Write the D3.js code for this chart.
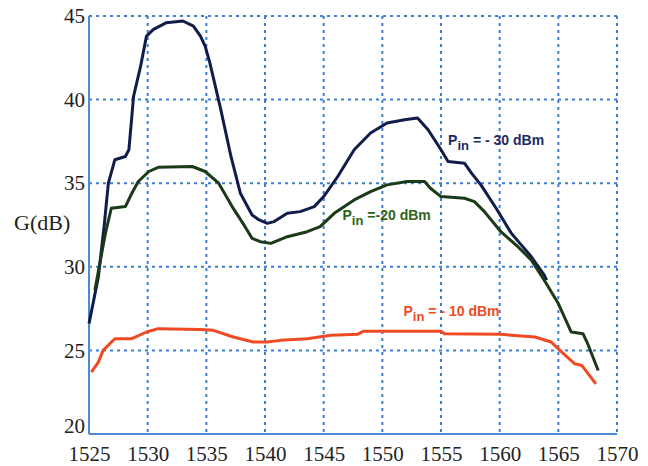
<!DOCTYPE html>
<html><head><meta charset="utf-8">
<script src="https://cdn.jsdelivr.net/npm/d3@7"></script>
<style>body{margin:0;background:#fff}svg{display:block}</style>
</head><body><div id="chart"></div>
<script>
// wavelength (nm) / gain (dB)
const xTicks=[1525,1530,1535,1540,1545,1550,1555,1560,1565,1570];
const yTicks=[20,25,30,35,40,45];
const lam30=[1525.0,1525.8,1526.3,1526.65,1527.2,1528.1,1528.4,1528.8,1529.4,1529.9,1530.5,1531.6,1533.0,1533.9,1534.5,1534.9,1535.3,1536.2,1537.1,1537.9,1538.9,1539.5,1540.2,1540.75,1541.9,1543.0,1544.2,1545.0,1546.2,1547.6,1549.0,1550.4,1551.9,1553.0,1553.9,1555.0,1555.6,1557.0,1557.6,1558.4,1559.7,1561.0,1562.7,1563.8,1564.0];
const g30=[26.6,29.4,32.5,35.0,36.4,36.6,37.0,40.2,42.0,43.8,44.2,44.6,44.7,44.4,43.8,43.2,42.2,39.5,36.6,34.4,33.1,32.8,32.6,32.7,33.2,33.3,33.6,34.2,35.4,37.0,38.0,38.6,38.8,38.9,38.2,37.0,36.3,36.2,35.6,34.9,33.5,32.0,30.6,29.5,29.2];
const lam20=[1525.5,1526.0,1526.4,1526.9,1528.1,1528.65,1529.2,1530.1,1530.9,1533.8,1534.9,1536.05,1537.2,1538.3,1538.9,1539.6,1540.5,1541.9,1543.6,1544.7,1545.9,1547.6,1549.0,1550.4,1552.1,1553.6,1554.1,1555.0,1557.0,1557.85,1558.7,1560.1,1561.55,1562.7,1563.8,1565.0,1566.1,1567.1,1567.5,1568.4];
const g20=[28.6,30.5,32.0,33.5,33.6,34.4,35.1,35.7,35.95,36.0,35.7,35.0,33.6,32.4,31.7,31.5,31.4,31.8,32.1,32.4,33.2,34.0,34.5,34.9,35.1,35.1,34.7,34.2,34.1,33.9,33.3,32.1,31.2,30.4,29.2,27.8,26.1,26.0,25.4,23.8];
const lam10=[1525.2,1525.8,1526.2,1527.2,1528.65,1529.9,1530.9,1534.5,1535.6,1537.3,1539.0,1540.2,1541.3,1543.6,1545.6,1547.9,1548.4,1555.0,1555.3,1560.1,1563.0,1564.4,1565.3,1566.4,1567.0,1568.2];
const g10=[23.7,24.3,25.0,25.7,25.7,26.1,26.3,26.25,26.2,25.8,25.5,25.5,25.6,25.7,25.9,25.96,26.15,26.15,26.0,25.96,25.8,25.5,24.9,24.2,24.1,23.0];
const labels=["= - 30 dBm","=-20 dBm","= - 10 dBm"];

const series=[
  {lam:lam30,g:g30,color:"#111c4a",lab:labels[0],lc:"#1b2a66",lx:1555.6,ly:37.3},
  {lam:lam20,g:g20,color:"#1b3a17",lab:labels[1],lc:"#2f6320",lx:1546.6,ly:32.8},
  {lam:lam10,g:g10,color:"#ef4a23",lab:labels[2],lc:"#ef4a23",lx:1551.8,ly:27.05}
];

const W=648,H=466,m={top:16,right:31,bottom:32,left:89};
const w=W-m.left-m.right, ih=H-m.top-m.bottom;
const svg=d3.select("#chart").append("svg").attr("width",W).attr("height",H);
const g=svg.append("g").attr("transform",`translate(${m.left},${m.top})`);
const x=d3.scaleLinear().domain([1525,1570]).range([0,w]);
const y=d3.scaleLinear().domain([20,45]).range([ih,0]);
const gridCol="#3b7fd4", axisCol="#4a8bd6";

// dotted grid
g.append("g").selectAll("line").data(xTicks.slice(1)).join("line")
  .attr("x1",d=>x(d)).attr("x2",d=>x(d)).attr("y1",0).attr("y2",ih)
  .attr("stroke",gridCol).attr("stroke-width",2).attr("stroke-dasharray","3,4");
g.append("g").selectAll("line").data(yTicks.slice(1)).join("line")
  .attr("x1",0).attr("x2",w).attr("y1",d=>y(d)).attr("y2",d=>y(d))
  .attr("stroke",gridCol).attr("stroke-width",2).attr("stroke-dasharray","3,4");

const serif="'Liberation Serif','Times New Roman',serif";
g.append("g").attr("transform",`translate(0,${ih})`)
  .call(d3.axisBottom(x).tickValues(xTicks).tickSize(0).tickPadding(12).tickFormat(d3.format("d")))
  .call(s=>s.select(".domain").remove())
  .call(s=>s.selectAll("text").attr("fill","#222").attr("font-size",21).attr("font-family",serif));
g.append("g")
  .call(d3.axisLeft(y).tickValues(yTicks).tickSize(0).tickPadding(4))
  .call(s=>s.select(".domain").remove())
  .call(s=>s.selectAll("text").attr("fill","#222").attr("font-size",21).attr("font-family",serif)
    .attr("dy",d=>d===20?"-0.05em":"0.32em"));
g.append("line").attr("x1",0).attr("x2",0).attr("y1",0).attr("y2",ih).attr("stroke",axisCol).attr("stroke-width",2);
g.append("line").attr("x1",0).attr("x2",w).attr("y1",ih).attr("y2",ih).attr("stroke",axisCol).attr("stroke-width",2);

svg.append("text").attr("x",14).attr("y",230).attr("font-size",22).attr("font-family",serif)
  .attr("fill","#222").text("G(dB)");

const line=d3.line().x(d=>x(d[0])).y(d=>y(d[1]));
series.forEach(s=>{
  g.append("path").datum(d3.zip(s.lam,s.g)).attr("fill","none")
    .attr("stroke",s.color).attr("stroke-width",3).attr("stroke-linejoin","round").attr("d",line);
  const t=g.append("text").attr("x",x(s.lx)).attr("y",y(s.ly))
    .attr("font-family","'Liberation Sans',Arial,sans-serif").attr("font-weight","bold")
    .attr("font-size",14).attr("fill",s.lc);
  t.append("tspan").text("P");
  t.append("tspan").attr("font-size",13).attr("dy",5).text("in");
  t.append("tspan").attr("dy",-5).attr("dx",4).text(s.lab);
});
</script></body></html>
